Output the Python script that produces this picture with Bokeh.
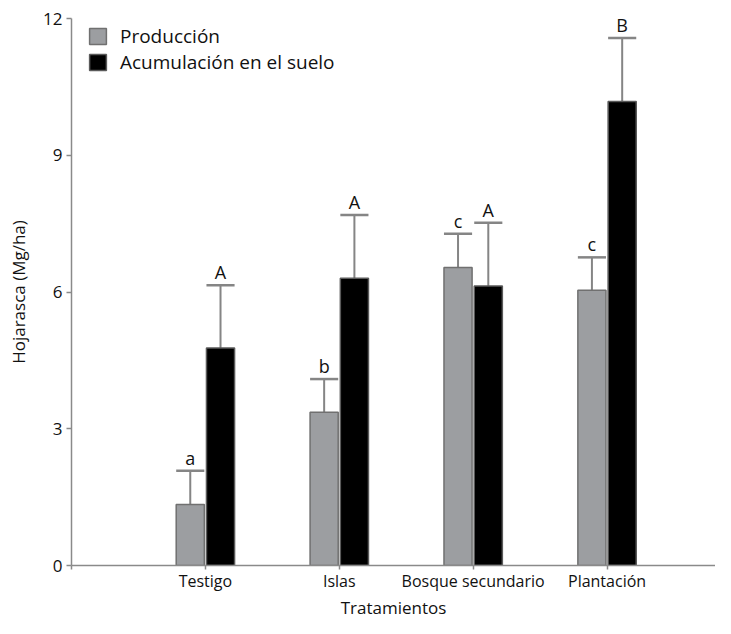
from bokeh.plotting import figure
from bokeh.models import ColumnDataSource, FixedTicker, Legend, LegendItem, Range1d, Title
from bokeh.core.properties import value
from bokeh.embed import file_html
from bokeh.resources import INLINE

categories = ["Testigo", "Islas", "Bosque secundario", "Plantación"]
produccion = [1.34, 3.36, 6.54, 6.04]
produccion_err = [0.74, 0.73, 0.74, 0.72]
produccion_letters = ["a", "b", "c", "c"]
acumulacion = [4.77, 6.30, 6.13, 10.18]
acumulacion_err = [1.38, 1.39, 1.39, 1.39]
acumulacion_letters = ["A", "A", "A", "B"]
series_names = ["Producción", "Acumulación en el suelo"]
y_ticks = [0, 3, 6, 9, 12]
x_title = "Tratamientos"
y_title = "Hojarasca (Mg/ha)"

FONT = "Open Sans"
BAR_W = 0.21
OFF = 0.113

p = figure(width=715, height=618, output_backend="svg", toolbar_location=None,
           x_range=Range1d(0, 4.81), y_range=Range1d(0, 12),
           min_border_left=71, min_border_right=0, min_border_top=18, min_border_bottom=46)
p.outline_line_color = None
p.xgrid.grid_line_color = None
p.ygrid.grid_line_color = None
p.background_fill_color = "white"
p.border_fill_color = "white"

xs = [i + 1 for i in range(len(categories))]

def make_src(vals, errs, letters, off):
    x = [xi + off for xi in xs]
    top = [v + e for v, e in zip(vals, errs)]
    return ColumnDataSource(dict(
        x=x, top=vals, etop=top, letter=letters,
        x0=[xi - BAR_W / 2 for xi in x], x1=[xi + BAR_W / 2 for xi in x]))

src_p = make_src(produccion, produccion_err, produccion_letters, -OFF)
src_a = make_src(acumulacion, acumulacion_err, acumulacion_letters, OFF)

err_color = "#858585"
for src in (src_p, src_a):
    p.segment(x0="x", y0="top", x1="x", y1="etop", source=src, line_color=err_color, line_width=2)
    p.segment(x0="x0", y0="etop", x1="x1", y1="etop", source=src, line_color=err_color, line_width=2.5)

r_p = p.vbar(x="x", top="top", bottom=0, width=BAR_W, source=src_p,
             fill_color="#9c9ea1", line_color="#707070", line_width=1.5)
r_a = p.vbar(x="x", top="top", bottom=0, width=BAR_W, source=src_a,
             fill_color="#000000", line_color="#5a5a5a", line_width=1.5)

for src in (src_p, src_a):
    p.text(x="x", y="etop", text="letter", source=src, text_align="center",
           text_baseline="bottom", y_offset=-1, text_font=value(FONT),
           text_font_size="18px", text_color="#111111")

legend = Legend(items=[LegendItem(label=series_names[0], renderers=[r_p]),
                       LegendItem(label=series_names[1], renderers=[r_a])],
                location=(16, 490), orientation="vertical")
legend.border_line_color = None
legend.background_fill_alpha = 0
legend.padding = 0
legend.margin = 0
legend.spacing = 0
legend.glyph_width = 21
legend.glyph_height = 20
legend.label_height = 20
legend.label_standoff = 12
legend.label_text_font = FONT
legend.label_text_font_size = "19px"
legend.label_text_color = "#111111"
p.add_layout(legend)

axis_color = "#8a8a8a"
p.xaxis.ticker = FixedTicker(ticks=[0] + xs)
p.xaxis.major_label_overrides = {0: ""} | {x: c for x, c in zip(xs, categories)}
p.xaxis.minor_tick_line_color = None
p.xaxis.major_tick_in = 0
p.xaxis.major_tick_out = 4
p.xaxis.axis_line_color = axis_color
p.xaxis.axis_line_width = 1.5
p.xaxis.major_tick_line_color = axis_color
p.xaxis.major_tick_line_width = 1.5
p.xaxis.major_label_standoff = 0
p.xaxis.major_label_text_font = FONT
p.xaxis.major_label_text_font_size = "16px"
p.xaxis.major_label_text_line_height = 1.0
p.xaxis.major_label_text_color = "#111111"

p.add_layout(Title(text=x_title, align="center", offset=8, standoff=-1,
                   text_font=FONT, text_font_size="17px", text_font_style="normal",
                   text_line_height=1.0, text_color="#111111"), "below")

p.yaxis.ticker = FixedTicker(ticks=y_ticks)
p.yaxis.minor_tick_line_color = None
p.yaxis.major_tick_in = 0
p.yaxis.major_tick_out = 5
p.yaxis.axis_line_color = axis_color
p.yaxis.axis_line_width = 1.5
p.yaxis.major_tick_line_color = axis_color
p.yaxis.major_tick_line_width = 1.5
p.yaxis.major_label_standoff = 4
p.yaxis.major_label_text_font = FONT
p.yaxis.major_label_text_font_size = "17px"
p.yaxis.major_label_text_color = "#111111"
p.yaxis.axis_label = y_title
p.yaxis.axis_label_standoff = 10
p.yaxis.axis_label_text_font = FONT
p.yaxis.axis_label_text_font_size = "17px"
p.yaxis.axis_label_text_font_style = "normal"
p.yaxis.axis_label_text_color = "#111111"

open("out.html", "w").write(file_html(p, INLINE))
